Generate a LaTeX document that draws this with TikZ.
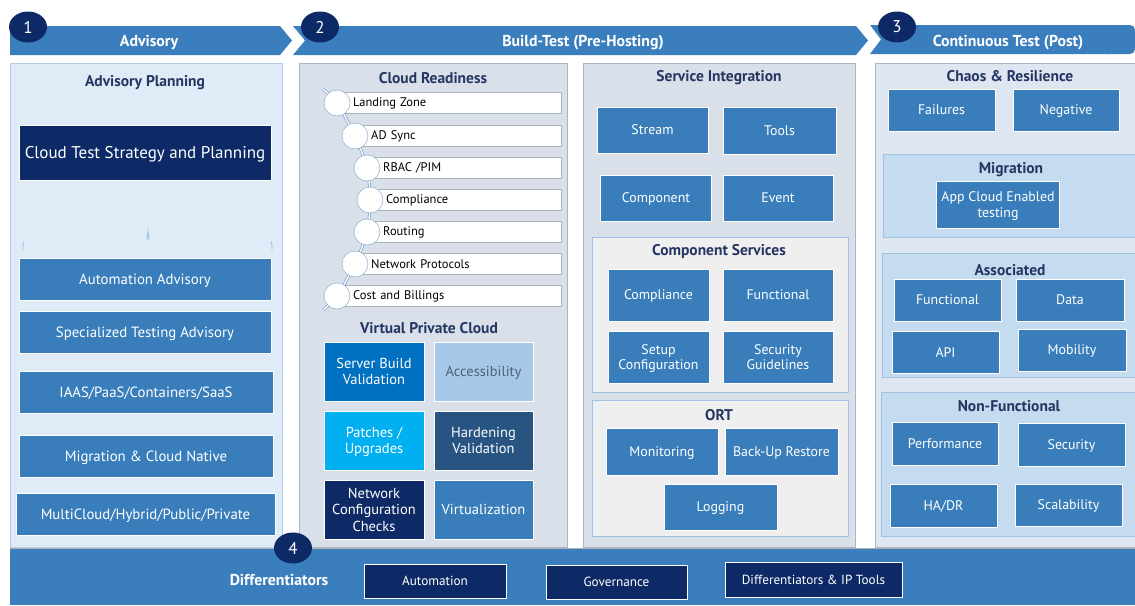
\documentclass[tikz,border=0pt]{standalone}
\usepackage{fontspec}
\setmainfont{PT Sans}
\usetikzlibrary{shapes.geometric}

\definecolor{bannerblue}{RGB}{58,126,189}
\definecolor{tileblue}{RGB}{57,126,187}
\definecolor{navy}{RGB}{13,42,102}
\definecolor{titlenavy}{RGB}{38,54,99}
\definecolor{advfill}{RGB}{223,235,247}
\definecolor{advline}{RGB}{180,205,230}
\definecolor{grayfill}{RGB}{217,224,233}
\definecolor{grayline}{RGB}{168,182,198}
\definecolor{ctfill}{RGB}{222,230,241}
\definecolor{subfill}{RGB}{197,219,239}
\definecolor{subline}{RGB}{160,195,228}
\definecolor{csfill}{RGB}{239,239,239}
\definecolor{rowline}{RGB}{170,180,192}
\definecolor{chainblue}{RGB}{120,160,205}
\definecolor{sbvblue}{RGB}{0,112,192}
\definecolor{accblue}{RGB}{167,200,232}
\definecolor{acctext}{RGB}{79,98,114}
\definecolor{patblue}{RGB}{0,176,240}
\definecolor{hardblue}{RGB}{39,84,128}

\tikzset{
  tile/.style={draw=white, line width=0.8pt, fill=tileblue, text=white, align=center,
    inner sep=0pt, text depth=0pt, font=\fontsize{13.9}{15.5}\selectfont},
  advtile/.style={tile, font=\fontsize{14.8}{16}\selectfont},
  vpctile/.style={tile, font=\fontsize{14.5}{16.5}\selectfont},
  sz/.style 2 args={minimum width=#1pt, minimum height=#2pt},
  head/.style={text=titlenavy, yshift=-2pt, font=\bfseries\fontsize{15.5}{18}\selectfont},
  bannertext/.style={text=white, yshift=-2pt, font=\bfseries\fontsize{15.8}{18}\selectfont},
  badge/.style={ellipse, fill=navy, text=white, inner sep=0pt, minimum width=38pt,
    minimum height=31pt, font=\fontsize{17}{18}\selectfont},
  row/.style={draw=rowline, fill=white, minimum height=21pt, inner xsep=8pt, inner ysep=0pt,
    align=left, anchor=west, text=black, font=\fontsize{12.5}{14}\selectfont},
  knot/.style={circle, draw=chainblue, fill=white, minimum size=26pt, inner sep=0pt},
  chainline/.style={draw=chainblue, double=white, double distance=1.4pt, line width=0.7pt},
  darktile/.style={tile, fill=navy, font=\fontsize{13.2}{15}\selectfont}
}

\begin{document}
\begin{tikzpicture}[x=1pt,y=-1pt]
\useasboundingbox (0,0) rectangle (1135,605);

% banners
\fill[bannerblue] (10,26) -- (280,26) -- (292,40.5) -- (280,55) -- (10,55) -- cycle;
\fill[bannerblue] (293,26) -- (856,26) -- (868,40.5) -- (856,55) -- (293,55) -- (305,40.5) -- cycle;
\fill[bannerblue] (870,25) -- (1110,25) -- (1110,54) -- (870,54) -- (881,39.5) -- cycle;
\fill[bannerblue, rounded corners=5pt] (1100,25) -- (1135,25) -- (1135,54) -- (1100,54) -- cycle;
\node[bannertext] (advisory) at (149,41) {Advisory};
\node[bannertext] (buildtest) at (583,41) {Build-Test (Pre-Hosting)};
\node[bannertext] (conttest) at (1008,41) {Continuous Test (Post)};
\node[badge] (b1) at (28,27) {1};
\node[badge] (b2) at (320,27) {2};
\node[badge] (b3) at (897,27) {3};

% panels
\filldraw[fill=advfill, draw=advline] (10,63) rectangle (282,547);
\filldraw[fill=grayfill, draw=grayline] (299,63) rectangle (567,547);
\filldraw[fill=grayfill, draw=grayline] (583,63) rectangle (855,547);
\filldraw[fill=ctfill, draw=grayline] (875,63) rectangle (1140,547);

% advisory
\node[head] (advplan) at (145,81) {Advisory Planning};
\node[darktile, sz={252}{55}, font=\fontsize{17}{19}\selectfont] (cts) at (145,152.5) {Cloud Test Strategy and Planning};
\draw[subline, line width=0.8pt] (24,241) to[bend right=10] (23,250);
\draw[subline, line width=0.8pt] (147,240) -- (148,231) -- (149,240);
\draw[subline, line width=0.8pt] (271,241) to[bend left=10] (272,250);
\node[advtile, sz={252}{42}] (aa) at (145,279) {Automation Advisory};
\node[advtile, sz={252}{42}] (sta) at (145,332) {Specialized Testing Advisory};
\node[advtile, sz={254}{42}] (iaas) at (146,392) {IAAS/PaaS/Containers/SaaS};
\node[advtile, sz={254}{42}] (mcn) at (146,456) {Migration \& Cloud Native};
\node[advtile, sz={259}{42}] (mhp) at (145.5,514) {MultiCloud/Hybrid/Public/Private};

% cloud readiness
\node[head] (cloudready) at (433,76) {Cloud Readiness};
\node[row, text width=200pt] (lz) at (345,103) {Landing Zone};
\node[row, text width=182pt] (ad) at (363,136) {AD Sync};
\node[row, text width=170pt] (rbac) at (375,168) {RBAC /PIM};
\node[row, text width=167pt] (cmp) at (378,200) {Compliance};
\node[row, text width=170pt] (rout) at (375,232) {Routing};
\node[row, text width=182pt] (netp) at (363,264) {Network Protocols};
\node[row, text width=200pt] (cost) at (345,296) {Cost and Billings};
\coordinate (ktop) at (323,89);
\coordinate (k1) at (337,103);
\coordinate (k2) at (355,136);
\coordinate (k3) at (367,168);
\coordinate (k4) at (370,200);
\coordinate (k5) at (367,232);
\coordinate (k6) at (355,264);
\coordinate (k7) at (337,296);
\coordinate (kbot) at (323,310);
\draw[chainline] plot[smooth] coordinates {(ktop) (k1) (k2) (k3) (k4) (k5) (k6) (k7) (kbot)};
\foreach \k in {1,...,7}
  \node[knot] (knot\k) at (k\k) {};

% virtual private cloud
\node[head] (vpc) at (429,326) {Virtual Private Cloud};
\node[vpctile, sz={100}{59}, fill=sbvblue] (sbv) at (374,371.5) {Server Build\\Validation};
\node[vpctile, sz={99}{59}, fill=accblue, text=acctext] (acc) at (483.5,371.5) {Accessibility};
\node[vpctile, sz={100}{59}, fill=patblue] (pat) at (374,440.5) {Patches /\\Upgrades};
\node[vpctile, sz={99}{59}, fill=hardblue] (hard) at (483.5,440.5) {Hardening\\Validation};
\node[vpctile, sz={100}{59}, fill=navy] (ncc) at (374,509.5) {Network\\Configuration\\Checks};
\node[vpctile, sz={99}{59}] (virt) at (483.5,509.5) {Virtualization};

% service integration
\node[head] (servint) at (719,76) {Service Integration};
\node[tile, sz={111}{46}] (stream) at (652.5,130) {Stream};
\node[tile, sz={113}{47}] (tools) at (779.5,130.5) {Tools};
\node[tile, sz={111}{46}] (component) at (656,198) {Component};
\node[tile, sz={110}{46}] (event) at (778,198) {Event};
\filldraw[fill=csfill, draw=subline] (592,237) rectangle (848,392);
\node[head] (compserv) at (719,250) {Component Services};
\node[tile, sz={101}{52}] (cscomp) at (658.5,295) {Compliance};
\node[tile, sz={110}{52}] (csfunc) at (778,295) {Functional};
\node[tile, sz={101}{52}] (setup) at (658.5,357) {Setup\\Configuration};
\node[tile, sz={110}{52}] (secg) at (778,357) {Security\\Guidelines};
\filldraw[fill=csfill, draw=subline] (592,400) rectangle (848,536);
\node[head] (ort) at (719,413) {ORT};
\node[tile, sz={112}{47}] (mon) at (662,451.5) {Monitoring};
\node[tile, sz={113}{47}] (bur) at (781.5,451.5) {Back-Up Restore};
\node[tile, sz={113}{46}] (logg) at (720.5,507) {Logging};

% continuous test
\node[head] (chaos) at (1010,74) {Chaos \& Resilience};
\node[tile, sz={107}{42}] (fail) at (941.5,110) {Failures};
\node[tile, sz={106}{42}] (neg) at (1066,110) {Negative};
\filldraw[fill=subfill, draw=subline] (883,154) rectangle (1140,237);
\node[head] (migr) at (1011,168) {Migration};
\node[tile, sz={123}{47}, font=\fontsize{13.9}{16}\selectfont] (appce) at (998,205) {App Cloud Enabled\\testing};
\filldraw[fill=subfill, draw=subline] (882,253) rectangle (1140,377);
\node[head] (assoc) at (1010,268) {Associated};
\node[tile, sz={107}{42}] (afunc) at (947.5,300) {Functional};
\node[tile, sz={108}{42}] (data) at (1070,300) {Data};
\node[tile, sz={107}{42}] (api) at (945.5,352.5) {API};
\node[tile, sz={108}{42}] (mob) at (1072,350) {Mobility};
\filldraw[fill=subfill, draw=subline] (881,392) rectangle (1140,536);
\node[head] (nonfunc) at (1009,404) {Non-Functional};
\node[tile, sz={106}{43}] (perf) at (945,444) {Performance};
\node[tile, sz={107}{43}] (secu) at (1071.5,444.5) {Security};
\node[tile, sz={107}{43}] (hadr) at (943.5,505.5) {HA/DR};
\node[tile, sz={107}{42}] (scal) at (1068.5,505) {Scalability};

% differentiators
\fill[bannerblue] (10,548) rectangle (1135,605);
\draw[gray!60] (10,548) -- (1135,548);
\node[bannertext] (diff) at (279,578) {Differentiators};
\node[darktile, sz={142}{34}] (autom) at (435,581) {Automation};
\node[darktile, sz={141}{34}] (gov) at (616.5,582) {Governance};
\node[darktile, sz={177}{35}] (diptools) at (813.5,579.5) {Differentiators \& IP Tools};
\node[badge] (b4) at (293,548) {4};
\end{tikzpicture}
\end{document}
